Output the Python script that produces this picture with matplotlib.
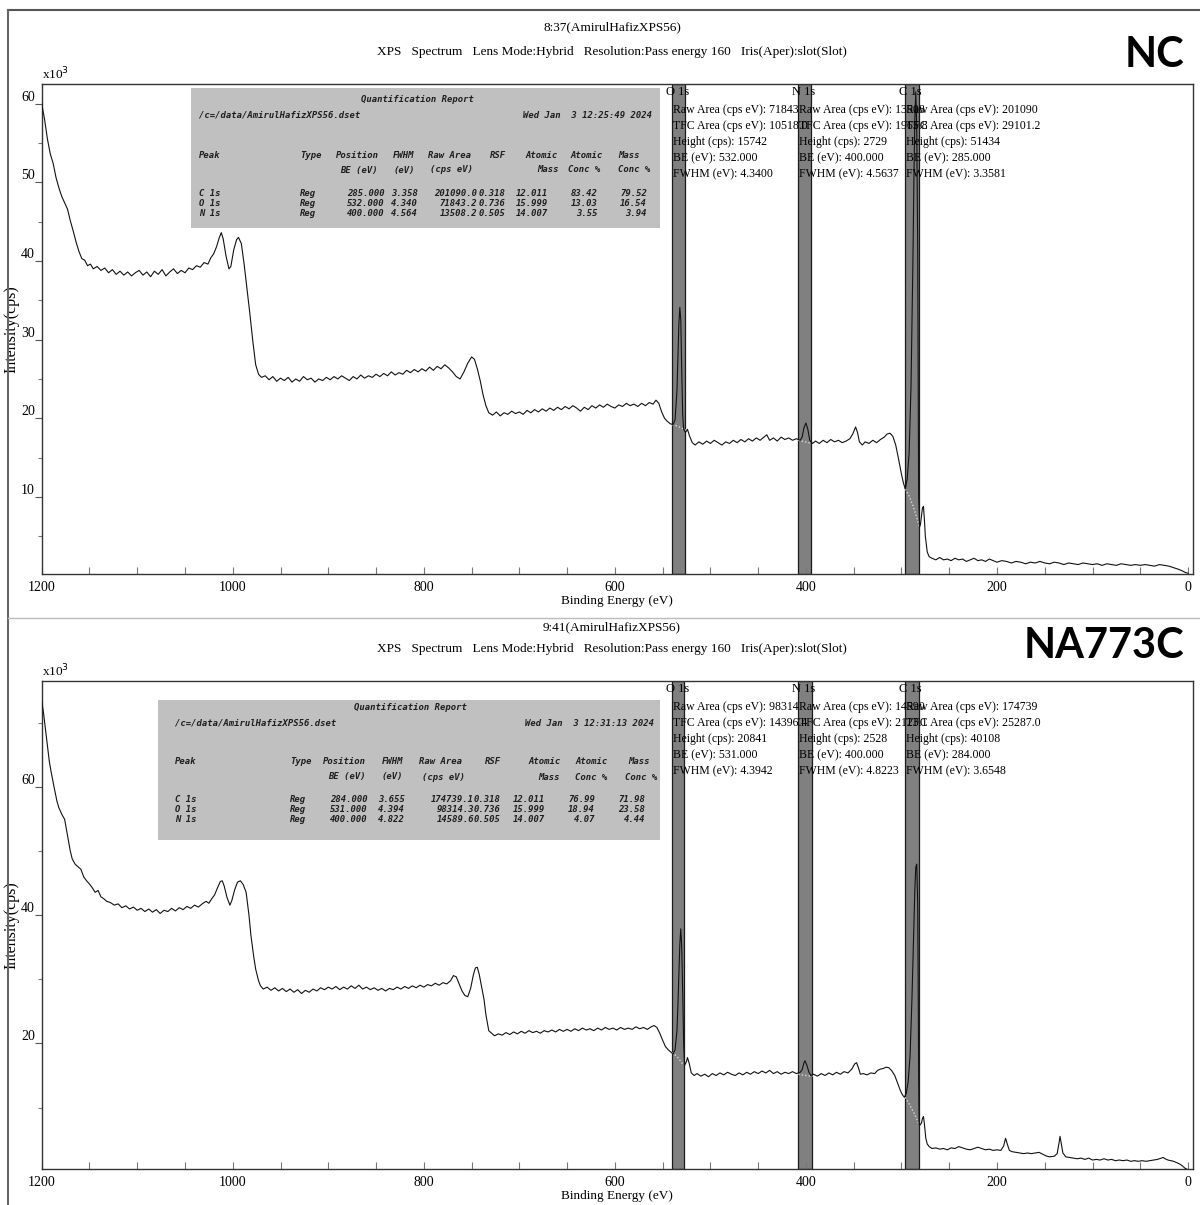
import numpy as np
import matplotlib
matplotlib.use('Agg')
import matplotlib.pyplot as plt
from matplotlib.lines import Line2D
from matplotlib.patches import Rectangle
from matplotlib.ticker import MultipleLocator

# ---------------------------------------------------------------
# Data (BE in eV, intensity in 10^3 cps)
# ---------------------------------------------------------------
nc_survey = [
    (1200, 60.0), (1197, 58.0), (1194, 55.5), (1191, 53.6), (1188, 52.4), (1185, 50.6),
    (1182, 49.3), (1179, 48.2), (1176, 47.4), (1173, 46.6), (1170, 45.1), (1167, 43.8),
    (1164, 42.4), (1161, 41.2), (1158, 40.3), (1155, 40.1), (1152, 39.4), (1149, 39.6),
    (1146, 39.0), (1142, 39.3), (1138, 38.8), (1134, 39.1), (1130, 38.5), (1126, 38.9),
    (1122, 38.3), (1118, 38.7), (1114, 38.2), (1110, 38.6), (1106, 38.1), (1102, 38.5),
    (1098, 38.8), (1094, 38.2), (1090, 38.6), (1086, 38.0), (1082, 38.7), (1078, 38.3),
    (1074, 38.9), (1070, 38.1), (1066, 38.6), (1062, 39.0), (1058, 38.4), (1054, 38.8),
    (1050, 38.5), (1046, 39.1), (1042, 38.9), (1038, 39.4), (1034, 39.2), (1030, 39.8),
    (1026, 39.6), (1023, 40.4), (1020, 40.9), (1017, 41.8), (1014, 43.0), (1012, 43.6),
    (1010, 42.8), (1007, 40.6), (1004, 39.0), (1002, 39.3), (999, 41.4), (996, 42.7),
    (994, 43.0), (991, 42.2), (988, 39.5), (985, 36.4), (982, 33.2), (979, 29.8),
    (976, 26.8), (973, 25.6), (970, 25.2), (966, 25.4), (962, 24.9), (958, 25.3),
    (954, 24.7), (950, 25.1), (946, 24.8), (942, 25.2), (938, 24.6), (934, 25.0),
    (930, 24.7), (926, 25.3), (922, 24.9), (918, 25.1), (914, 24.6), (910, 25.0),
    (906, 24.8), (902, 25.2), (898, 24.9), (894, 25.3), (890, 25.0), (886, 25.4),
    (882, 25.1), (878, 24.8), (874, 25.3), (870, 25.0), (866, 25.5), (862, 25.1),
    (858, 25.4), (854, 25.2), (850, 25.6), (846, 25.3), (842, 25.7), (838, 25.4),
    (834, 25.9), (830, 25.5), (826, 25.8), (822, 25.6), (818, 26.1), (814, 25.8),
    (810, 26.2), (806, 25.9), (802, 26.3), (798, 26.0), (794, 26.5), (790, 26.1),
    (786, 26.6), (782, 26.3), (778, 26.8), (774, 26.4), (770, 25.9), (766, 25.3),
    (762, 25.0), (758, 25.9), (754, 27.0), (750, 27.8), (747, 27.5), (744, 26.3),
    (741, 24.8), (738, 23.0), (735, 21.6), (732, 20.7), (728, 20.4), (724, 20.8),
    (720, 20.3), (716, 20.7), (712, 20.5), (708, 20.9), (704, 20.6), (700, 20.8),
    (696, 20.5), (692, 21.0), (688, 20.7), (684, 21.1), (680, 20.8), (676, 21.2),
    (672, 20.9), (668, 21.3), (664, 21.0), (660, 21.4), (656, 21.1), (652, 21.5),
    (648, 21.2), (644, 21.6), (640, 21.3), (636, 20.9), (632, 21.4), (628, 21.1),
    (624, 21.6), (620, 21.3), (616, 21.7), (612, 21.4), (608, 21.8), (604, 21.5),
    (600, 21.3), (596, 21.7), (592, 21.5), (588, 21.9), (584, 21.6), (580, 21.8),
    (576, 21.5), (572, 21.9), (568, 21.6), (564, 22.0), (560, 21.8), (557, 22.3),
    (554, 21.9), (551, 20.8), (548, 20.0), (545, 19.6), (542, 19.3), (539, 19.2),
    (537, 19.8), (535, 23.5), (534, 28.0), (533, 32.0), (532, 34.1), (531, 32.5),
    (530, 26.0), (529, 20.5), (528, 18.6), (526, 18.2), (524, 18.6), (522, 17.8),
    (519, 16.9), (516, 16.6), (512, 17.0), (508, 16.7), (504, 17.1), (500, 16.8),
    (496, 17.2), (492, 16.9), (488, 16.6), (484, 17.0), (480, 16.8), (476, 17.2),
    (472, 16.9), (468, 17.3), (464, 17.0), (460, 17.4), (456, 17.1), (452, 17.5),
    (448, 17.2), (444, 17.6), (441, 17.9), (438, 17.2), (434, 17.5), (430, 17.1),
    (426, 17.6), (422, 17.3), (418, 17.5), (414, 17.2), (410, 17.4), (406, 17.2),
    (404, 17.6), (402, 18.8), (400, 19.4), (398, 18.6), (396, 17.2), (393, 16.8),
    (390, 17.1), (386, 16.8), (382, 17.2), (378, 16.9), (374, 17.3), (370, 17.0),
    (366, 17.2), (362, 16.9), (358, 17.1), (354, 17.4), (351, 18.0), (348, 18.9),
    (346, 18.2), (344, 17.0), (341, 16.6), (338, 17.0), (334, 16.8), (330, 17.2),
    (326, 16.9), (322, 17.3), (318, 17.6), (315, 18.0), (312, 18.1), (309, 17.7),
    (306, 16.6), (303, 14.8), (300, 12.9), (298, 11.8), (296, 11.0), (294, 12.3),
    (292, 15.5), (290, 24.0), (288, 40.0), (287, 50.0), (286, 58.0), (285, 61.5),
    (284, 57.0), (283, 42.0), (282.5, 24.0), (282, 10.0), (281, 6.2), (280, 6.6),
    (279, 7.6), (278, 8.6), (277, 8.8), (276, 7.2), (275, 5.0), (273, 3.0),
    (271, 2.4), (268, 2.2), (264, 2.0), (260, 2.3), (256, 2.0), (252, 2.1),
    (248, 1.9), (244, 2.2), (240, 2.0), (236, 2.1), (232, 1.8), (228, 2.0),
    (224, 2.2), (220, 1.9), (216, 2.0), (212, 1.8), (208, 2.1), (204, 1.9),
    (200, 1.7), (195, 1.9), (190, 1.8), (185, 1.6), (180, 1.8), (175, 1.7),
    (170, 1.5), (165, 1.7), (160, 1.6), (155, 1.8), (150, 1.6), (145, 1.5),
    (140, 1.7), (135, 1.6), (130, 1.4), (125, 1.6), (120, 1.5), (115, 1.4),
    (110, 1.6), (105, 1.5), (100, 1.4), (95, 1.5), (90, 1.3), (85, 1.5),
    (80, 1.4), (75, 1.3), (70, 1.5), (65, 1.4), (60, 1.3), (55, 1.4),
    (50, 1.3), (45, 1.4), (40, 1.3), (35, 1.2), (30, 1.4), (25, 1.3),
    (20, 1.2), (15, 1.0), (10, 0.8), (6, 0.6), (3, 0.4), (0, 0.3),
]

na_survey = [
    (1200, 73.5), (1198, 71.5), (1196, 69.0), (1194, 66.5), (1192, 64.0), (1190, 62.3),
    (1187, 60.0), (1184, 57.8), (1182, 56.8), (1179, 55.8), (1176, 55.0), (1173, 52.5),
    (1170, 50.0), (1168, 48.8), (1165, 48.0), (1162, 47.6), (1159, 47.2), (1156, 46.0),
    (1153, 45.4), (1150, 44.9), (1147, 44.3), (1144, 43.6), (1141, 43.9), (1138, 42.9),
    (1135, 42.6), (1132, 42.2), (1128, 42.0), (1124, 41.6), (1120, 41.8), (1116, 41.2),
    (1112, 41.5), (1108, 41.0), (1104, 41.3), (1100, 40.8), (1096, 41.1), (1092, 40.6),
    (1088, 41.0), (1084, 40.5), (1080, 40.9), (1076, 40.3), (1072, 40.8), (1068, 40.6),
    (1064, 41.1), (1060, 40.7), (1056, 41.2), (1052, 40.9), (1048, 41.4), (1044, 41.1),
    (1040, 41.6), (1036, 41.3), (1032, 41.8), (1028, 42.2), (1025, 41.9), (1022, 42.6),
    (1019, 43.2), (1016, 44.3), (1013, 45.3), (1011, 45.4), (1009, 44.6), (1006, 42.8),
    (1003, 41.6), (1001, 42.3), (998, 44.0), (995, 45.2), (992, 45.4), (989, 44.8),
    (986, 43.6), (983, 40.0), (981, 36.9), (978, 33.5), (976, 31.6), (973, 29.8),
    (971, 29.0), (968, 28.5), (964, 28.8), (960, 28.3), (956, 28.7), (952, 28.2),
    (948, 28.6), (944, 28.1), (940, 28.5), (936, 28.0), (932, 28.4), (928, 27.8),
    (924, 28.3), (920, 28.0), (916, 28.5), (912, 28.2), (908, 28.7), (904, 28.4),
    (900, 28.8), (896, 28.5), (892, 28.9), (888, 28.4), (884, 28.8), (880, 28.5),
    (876, 29.0), (872, 28.6), (868, 29.1), (864, 28.5), (860, 28.8), (856, 28.4),
    (852, 28.7), (848, 28.3), (844, 28.6), (840, 28.2), (836, 28.6), (832, 28.4),
    (828, 28.8), (824, 28.5), (820, 28.9), (816, 28.6), (812, 29.0), (808, 28.7),
    (804, 29.1), (800, 28.8), (796, 29.2), (792, 29.0), (788, 29.4), (784, 29.1),
    (780, 29.5), (776, 29.3), (772, 29.8), (769, 30.6), (766, 30.4), (763, 29.3),
    (760, 28.2), (757, 27.5), (754, 27.3), (751, 28.6), (748, 30.8), (746, 31.8),
    (744, 31.9), (742, 30.8), (739, 28.5), (737, 26.9), (735, 24.5), (732, 22.0),
    (729, 21.6), (726, 21.2), (722, 21.5), (718, 21.3), (714, 21.7), (710, 21.4),
    (706, 21.8), (702, 21.5), (698, 21.9), (694, 21.6), (690, 22.0), (686, 21.7),
    (682, 21.9), (678, 21.6), (674, 22.0), (670, 21.8), (666, 22.1), (662, 21.8),
    (658, 22.2), (654, 21.9), (650, 22.2), (646, 21.9), (642, 22.3), (638, 22.0),
    (634, 22.4), (630, 22.1), (626, 22.3), (622, 22.0), (618, 22.4), (614, 22.1),
    (610, 22.5), (606, 22.2), (602, 22.4), (598, 22.1), (594, 22.5), (590, 22.2),
    (586, 22.4), (582, 22.2), (578, 22.6), (574, 22.3), (570, 22.5), (566, 22.2),
    (562, 22.6), (559, 22.8), (556, 22.5), (553, 21.6), (550, 20.5), (547, 19.5),
    (544, 19.0), (541, 18.6), (539, 18.4), (537, 19.0), (535, 22.0), (534, 26.0),
    (533, 31.0), (532, 35.5), (531, 37.9), (530, 35.0), (529, 28.0), (528, 20.0),
    (527, 16.6), (525, 17.2), (524, 17.8), (522, 16.8), (520, 15.4), (517, 15.0),
    (514, 15.3), (510, 14.9), (506, 15.2), (502, 14.8), (498, 15.3), (494, 15.0),
    (490, 15.4), (486, 15.1), (482, 15.5), (478, 15.2), (474, 15.0), (470, 15.4),
    (466, 15.1), (462, 15.5), (458, 15.2), (454, 15.6), (450, 15.3), (446, 15.7),
    (442, 15.4), (438, 15.8), (434, 15.3), (430, 15.6), (426, 15.2), (422, 15.5),
    (418, 15.3), (414, 15.6), (410, 15.3), (406, 15.5), (404, 15.9), (402, 17.0),
    (401, 17.3), (399, 16.6), (397, 15.6), (395, 15.0), (392, 15.2), (388, 14.9),
    (384, 15.3), (380, 15.0), (376, 15.4), (372, 15.1), (368, 15.5), (364, 15.2),
    (360, 15.6), (356, 15.4), (352, 16.0), (349, 16.8), (347, 17.0), (345, 16.2),
    (343, 15.2), (340, 15.3), (336, 15.1), (332, 15.4), (328, 15.3), (325, 15.8),
    (322, 16.0), (319, 16.1), (316, 16.3), (313, 16.2), (310, 15.7), (307, 15.0),
    (304, 13.8), (301, 12.6), (299, 12.0), (297, 11.6), (295, 12.2), (293, 14.0),
    (291, 18.0), (289, 27.0), (287, 38.0), (286, 44.0), (285, 47.5), (284, 48.0),
    (283, 42.0), (282.5, 30.0), (282, 15.0), (281.5, 7.5), (281, 7.2), (279, 7.6),
    (278, 8.3), (277, 8.6), (276, 7.5), (274.5, 5.2), (273, 4.3), (271, 3.9),
    (268, 3.6), (264, 3.7), (260, 3.5), (256, 3.6), (252, 3.4), (248, 3.7),
    (244, 3.6), (240, 3.9), (236, 3.7), (232, 3.5), (228, 3.4), (224, 3.6),
    (220, 3.8), (216, 3.6), (212, 3.4), (208, 3.5), (204, 3.3), (200, 3.4),
    (196, 3.3), (193, 4.0), (191, 5.2), (189, 4.2), (187, 3.3), (184, 3.1),
    (180, 3.0), (176, 2.9), (172, 2.8), (168, 2.9), (164, 2.8), (160, 2.9),
    (156, 3.0), (152, 2.7), (148, 2.4), (145, 2.3), (140, 2.4), (137, 2.8),
    (135, 4.5), (134, 5.5), (133, 4.6), (131, 2.9), (128, 2.3), (124, 2.2),
    (120, 2.1), (116, 2.0), (112, 2.1), (108, 1.9), (104, 2.1), (100, 1.8),
    (96, 1.9), (92, 1.8), (88, 2.0), (84, 1.8), (80, 1.9), (76, 1.7),
    (72, 1.8), (68, 1.7), (64, 1.8), (60, 1.6), (56, 1.7), (52, 1.6),
    (48, 1.7), (44, 1.6), (40, 1.7), (36, 1.8), (32, 1.9), (28, 2.1),
    (26, 2.2), (24, 2.0), (21, 1.8), (18, 1.7), (15, 1.6), (12, 1.4),
    (9, 1.2), (6, 0.9), (3, 0.5), (0, 0.3),
]

# Shirley backgrounds under the fitted regions
nc_backgrounds = [
    [(540, 19.2), (534, 19.0), (528, 18.6), (524, 18.4)],
    [(408, 17.2), (401, 17.0), (394, 16.8)],
    [(296, 11.0), (292, 10.1), (288, 8.9), (284, 7.4), (281, 6.1)],
]
na_backgrounds = [
    [(540, 18.6), (534, 17.8), (528.5, 16.7)],
    [(408, 15.2), (400, 15.0), (393, 14.9)],
    [(296, 11.6), (291, 10.3), (286, 8.9), (281.5, 7.3)],
]

peak_names = ['O 1s', 'N 1s', 'C 1s']
nc_band_hi = [540, 408, 296]
nc_band_lo = [527, 395, 282]
na_band_hi = [540, 408, 296]
na_band_lo = [527.5, 393.5, 281.5]

nc_raw_area = ['71843', '13508', '201090']
nc_tfc_area = ['10518.0', '1965.8', '29101.2']
nc_height = ['15742', '2729', '51434']
nc_be = ['532.000', '400.000', '285.000']
nc_fwhm = ['4.3400', '4.5637', '3.3581']

na_raw_area = ['98314', '14590', '174739']
na_tfc_area = ['14396.4', '2123.1', '25287.0']
na_height = ['20841', '2528', '40108']
na_be = ['531.000', '400.000', '284.000']
na_fwhm = ['4.3942', '4.8223', '3.6548']

# quantification report tables
table_head1 = ['Peak', 'Type', 'Position', 'FWHM', 'Raw Area', 'RSF', 'Atomic', 'Atomic', 'Mass']
table_head2 = ['', '', 'BE (eV)', '(eV)', '(cps eV)', '', 'Mass', 'Conc %', 'Conc %']
nc_rows = [
    ['C 1s', 'Reg', '285.000', '3.358', '201090.0', '0.318', '12.011', '83.42', '79.52'],
    ['O 1s', 'Reg', '532.000', '4.340', '71843.2', '0.736', '15.999', '13.03', '16.54'],
    ['N 1s', 'Reg', '400.000', '4.564', '13508.2', '0.505', '14.007', '3.55', '3.94'],
]
na_rows = [
    ['C 1s', 'Reg', '284.000', '3.655', '174739.1', '0.318', '12.011', '76.99', '71.98'],
    ['O 1s', 'Reg', '531.000', '4.394', '98314.3', '0.736', '15.999', '18.94', '23.58'],
    ['N 1s', 'Reg', '400.000', '4.822', '14589.6', '0.505', '14.007', '4.07', '4.44'],
]
nc_date = 'Wed Jan  3 12:25:49 2024'
na_date = 'Wed Jan  3 12:31:13 2024'
dset_path = '/c=/data/AmirulHafizXPS56.dset'

subtitle = 'XPS   Spectrum   Lens Mode:Hybrid   Resolution:Pass energy 160   Iris(Aper):slot(Slot)'

# ---------------------------------------------------------------
plt.rcParams['font.family'] = ['Liberation Serif', 'DejaVu Serif']

W, H = 1200, 1205
fig = plt.figure(figsize=(W / 100, H / 100), dpi=100)


def fx(x):
    return x / W


def fy(y):
    return 1 - y / H


mono = dict(family='DejaVu Sans Mono', weight='bold', style='italic', size=6.4, color='#1e1e1e')


def draw_table(box, title_xy, path_xy, date_xy, date, h1_y, h1_x, h2_y, h2_x,
               row_y, name_x, type_x, right_x, rows):
    x0, y0, x1, y1 = box
    rect = Rectangle((fx(x0), fy(y1)), fx(x1) - fx(x0), fy(y0) - fy(y1),
                     transform=fig.transFigure, facecolor='#c0c0c0', edgecolor='none', zorder=5)
    fig.add_artist(rect)
    texts = []
    texts.append(fig.text(fx(title_xy[0]), fy(title_xy[1]), 'Quantification Report', ha='center', va='center', **mono))
    texts.append(fig.text(fx(path_xy[0]), fy(path_xy[1]), dset_path, ha='left', va='center', **mono))
    texts.append(fig.text(fx(date_xy[0]), fy(date_xy[1]), date, ha='left', va='center', **mono))
    for lab, x in zip(table_head1, h1_x):
        texts.append(fig.text(fx(x), fy(h1_y), lab, ha='left', va='center', **mono))
    for lab, x in zip(table_head2, h2_x):
        if lab:
            texts.append(fig.text(fx(x), fy(h2_y), lab, ha='left', va='center', **mono))
    for row, y in zip(rows, row_y):
        texts.append(fig.text(fx(name_x), fy(y), row[0], ha='left', va='center', **mono))
        texts.append(fig.text(fx(type_x), fy(y), row[1], ha='left', va='center', **mono))
        for val, x in zip(row[2:], right_x):
            texts.append(fig.text(fx(x), fy(y), val, ha='right', va='center', **mono))
    for t in texts:
        t.set_zorder(6)
        t.set_clip_path(rect)


def draw_panel(top_px, bottom_px, survey, backgrounds, band_hi, band_lo, info, ylim, ymajor, yminor):
    left_px, right_px = 41.7, 1193
    ax = fig.add_axes([fx(left_px), fy(bottom_px), fx(right_px) - fx(left_px), fy(top_px) - fy(bottom_px)])
    be, cps = np.array(survey).T
    for hi, lo in zip(band_hi, band_lo):
        ax.axvspan(lo, hi, facecolor='#808080', edgecolor='#1a1a1a', lw=0.9, zorder=1)
    for bg in backgrounds:
        bx, by = np.array(bg).T
        ax.plot(bx, by, color='#d8d8d8', lw=1.0, ls=(0, (1, 1.5)), zorder=2)
    ax.plot(be, cps, color='#111111', lw=0.8, zorder=3)

    ax.set_xlim(1200, -5.2)
    ax.set_ylim(*ylim)
    ax.xaxis.set_major_locator(MultipleLocator(200))
    ax.xaxis.set_minor_locator(MultipleLocator(50))
    ax.yaxis.set_major_locator(MultipleLocator(ymajor))
    ax.yaxis.set_minor_locator(MultipleLocator(yminor))
    ax.tick_params(axis='x', which='both', direction='in', length=5, width=0.8, color='#777777',
                   labelsize=10, pad=5)
    ax.tick_params(axis='y', which='major', direction='out', length=5, width=0.8, color='#555555',
                   labelsize=10, pad=0)
    ax.tick_params(axis='y', which='minor', direction='out', length=3, width=0.8, color='#777777')
    for lab in ax.get_yticklabels():
        lab.set_va('bottom')
    for sp in ax.spines.values():
        sp.set_color('#333333')
        sp.set_linewidth(1.0)

    ax.set_xlabel('Binding Energy (eV)', fontsize=9.5, labelpad=1)
    ax.set_ylabel('Intensity(cps)', fontsize=11.5)
    ax.yaxis.set_label_coords(-0.019, 0.5)
    ax.text(0, 1.003, r'x10$^3$', transform=ax.transAxes, ha='left', va='bottom', fontsize=9.5)

    raw, tfc, height, bes, fwhm = info
    for k, name in enumerate(peak_names):
        ax.annotate(name, xy=(band_hi[k], 1), xycoords=('data', 'axes fraction'),
                    xytext=(-6, -2), textcoords='offset pixels', ha='left', va='top',
                    fontsize=9, zorder=7, annotation_clip=False)
        lines = ['Raw Area (cps eV): ' + raw[k], 'TFC Area (cps eV): ' + tfc[k],
                 'Height (cps): ' + height[k], 'BE (eV): ' + bes[k], 'FWHM (eV): ' + fwhm[k]]
        for j, line in enumerate(lines):
            ax.annotate(line, xy=(band_hi[k], 1), xycoords=('data', 'axes fraction'),
                        xytext=(1, -26 - 16 * j), textcoords='offset pixels', ha='left', va='center',
                        fontsize=8.5, zorder=7)
    return ax


# top panel (NC)
draw_panel(84, 574, nc_survey, nc_backgrounds, nc_band_hi, nc_band_lo,
           (nc_raw_area, nc_tfc_area, nc_height, nc_be, nc_fwhm), (0.2, 62.5), 10, 5)
fig.text(fx(612), fy(27), '8:37(AmirulHafizXPS56)', ha='center', va='center', fontsize=9.5)
fig.text(fx(612), fy(52), subtitle, ha='center', va='center', fontsize=9.5)
fig.text(fx(1184), fy(55), 'NC', ha='right', va='center', fontsize=30, family='Lato', weight='bold')
draw_table((191, 88, 660, 228), (417, 100), (199, 115), (523, 115), nc_date,
           155, [199, 300, 336, 393, 428, 490, 525, 570, 618],
           170, [0, 0, 340, 394, 430, 0, 537, 568, 618],
           [193, 203, 213], 199, 300, [385, 418, 477, 505, 548, 598, 647], nc_rows)

# bottom panel (NA773C)
draw_panel(681, 1169, na_survey, na_backgrounds, na_band_hi, na_band_lo,
           (na_raw_area, na_tfc_area, na_height, na_be, na_fwhm), (0.4, 76.6), 20, 10)
fig.text(fx(612), fy(627), '9:41(AmirulHafizXPS56)', ha='center', va='center', fontsize=9.5)
fig.text(fx(612), fy(649), subtitle, ha='center', va='center', fontsize=9.5)
fig.text(fx(1184), fy(646), 'NA773C', ha='right', va='center', fontsize=30, family='Lato', weight='bold')
draw_table((158, 700, 660, 840), (410, 707), (175, 723), (525, 723), na_date,
           762, [175, 290, 323, 382, 419, 485, 528, 575, 628],
           777, [0, 0, 328, 382, 422, 0, 538, 575, 625],
           [800, 810, 820], 175, 290, [368, 405, 474, 500, 545, 595, 645], na_rows)

# window frame lines
fig.add_artist(Line2D([fx(8), fx(1200)], [fy(10), fy(10)], transform=fig.transFigure, color='#555555', lw=1.5))
fig.add_artist(Line2D([fx(8), fx(8)], [fy(10), fy(1205)], transform=fig.transFigure, color='#666666', lw=1.5))
fig.add_artist(Line2D([fx(8), fx(1200)], [fy(618), fy(618)], transform=fig.transFigure, color='#bbbbbb', lw=1.0))

fig.savefig('out.png', dpi=100, facecolor='white')
